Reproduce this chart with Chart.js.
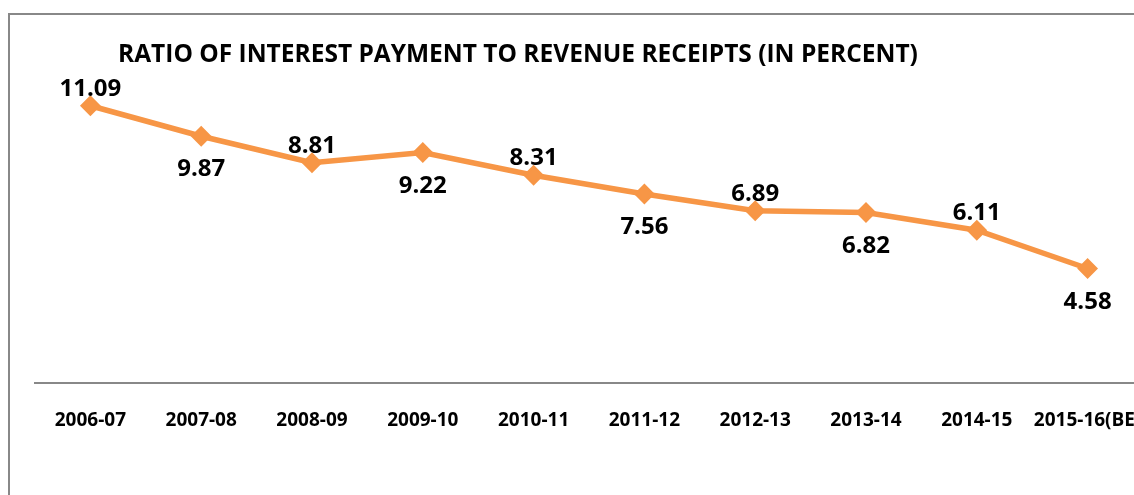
<!DOCTYPE html>
<html>
<head>
<meta charset="utf-8">
<script src="https://cdn.jsdelivr.net/npm/chart.js@4.4.1/dist/chart.umd.min.js"></script>
<style>
  html, body { margin: 0; padding: 0; background: #fff; overflow: hidden; }
  #wrap { position: absolute; left: 0; top: 0; width: 1170px; height: 495px; }
</style>
</head>
<body>
<div id="wrap"><canvas id="myChart" width="1170" height="495"></canvas></div>
<script>
// chart data
var years = ['2006-07', '2007-08', '2008-09', '2009-10', '2010-11', '2011-12', '2012-13', '2013-14', '2014-15', '2015-16(BE)'];
var ratio = [11.09, 9.87, 8.81, 9.22, 8.31, 7.56, 6.89, 6.82, 6.11, 4.58];
var titleText = 'RATIO OF INTEREST PAYMENT TO REVENUE RECEIPTS (IN PERCENT)';

var orange = '#F79646';
var fontName = "'Open Sans', 'DejaVu Sans', sans-serif";

// frame round the chart (only left and top edges are in the picture)
var framePlugin = {
    id: 'frame',
    beforeDraw: function (chart) {
        var ctx = chart.ctx;
        ctx.save();
        ctx.strokeStyle = '#888888';
        ctx.lineWidth = 2;
        ctx.beginPath();
        ctx.moveTo(9, 495);
        ctx.lineTo(9, 14);
        ctx.lineTo(chart.width, 14);
        ctx.stroke();
        ctx.restore();
    }
};

// title, left aligned like the original
var titlePlugin = {
    id: 'leftTitle',
    afterDraw: function (chart) {
        var ctx = chart.ctx;
        ctx.save();
        ctx.fillStyle = '#000';
        ctx.font = 'bold 24.5px ' + fontName;
        ctx.textAlign = 'left';
        ctx.textBaseline = 'alphabetic';
        ctx.fillText(titleText, 118, 62);
        ctx.restore();
    }
};

// value labels, alternating above / below the points
var labelPlugin = {
    id: 'valueLabels',
    afterDatasetsDraw: function (chart) {
        var ctx = chart.ctx;
        var meta = chart.getDatasetMeta(0);
        ctx.save();
        ctx.fillStyle = '#000';
        ctx.font = 'bold 24px ' + fontName;
        ctx.textAlign = 'center';
        ctx.textBaseline = 'alphabetic';
        meta.data.forEach(function (pt, i) {
            var y = (i % 2 == 0) ? pt.y - 10 : pt.y + 40;
            ctx.fillText(ratio[i].toFixed(2), pt.x, y);
        });
        ctx.restore();
    }
};

var ctx = document.getElementById('myChart').getContext('2d');
var chart = new Chart(ctx, {
    type: 'line',
    data: {
        labels: years,
        datasets: [{
            label: 'Ratio',
            data: ratio,
            borderColor: orange,
            backgroundColor: orange,
            borderWidth: 5.5,
            pointStyle: 'rectRot',
            pointRadius: 9,
            pointBorderWidth: 2,
            pointBackgroundColor: orange,
            pointBorderColor: orange,
            tension: 0
        }]
    },
    options: {
        responsive: false,
        animation: false,
        layout: { padding: { left: 35, right: 27, top: 83, bottom: 0 } },
        plugins: {
            legend: { display: false },
            title: { display: false },
            tooltip: { enabled: false }
        },
        scales: {
            x: {
                offset: true,
                grid: { display: false, drawTicks: false },
                border: { display: true, color: '#888888', width: 2 },
                ticks: {
                    color: '#000',
                    font: { family: fontName, size: 19, weight: 'bold' },
                    padding: 26,
                    maxRotation: 0,
                    autoSkip: false
                },
                afterFit: function (scale) { scale.height = 112; }
            },
            y: {
                display: false,
                min: 0,
                max: 12
            }
        }
    },
    plugins: [framePlugin, titlePlugin, labelPlugin]
});
</script>
</body>
</html>
